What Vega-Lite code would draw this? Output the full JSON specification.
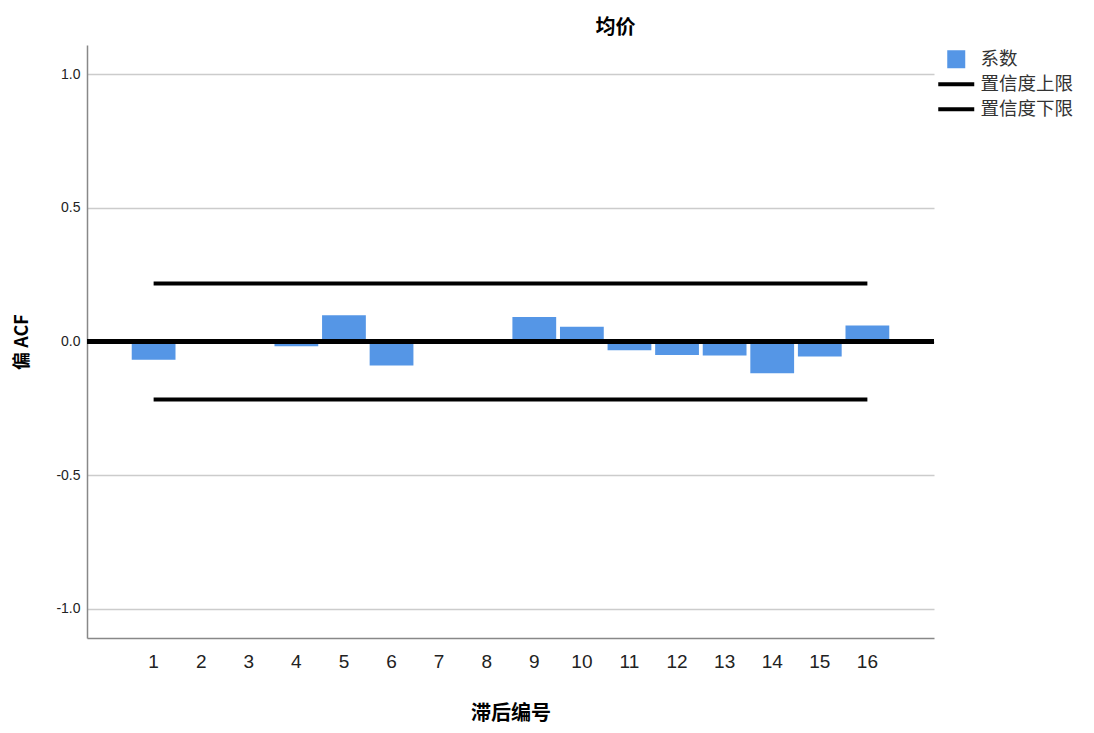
{
  "$schema": "https://vega.github.io/schema/vega-lite/v6.json",
  "autosize": {"type": "none"},
  "width": 847,
  "height": 593,
  "padding": {"left": 87, "top": 45, "right": 160, "bottom": 95},
  "background": "white",
  "config": {"view": {"stroke": null}},
  "title": {
    "text": "均价",
    "font": "Noto Sans CJK SC",
    "fontSize": 20,
    "fontWeight": "bold",
    "color": "#000000",
    "anchor": "middle",
    "dx": 105,
    "offset": 7
  },
  "data": {
    "values": [
      {"lag": 1, "acf": -0.068, "upper": 0.217, "lower": -0.217},
      {"lag": 2, "acf": -0.008, "upper": 0.217, "lower": -0.217},
      {"lag": 3, "acf": -0.004, "upper": 0.217, "lower": -0.217},
      {"lag": 4, "acf": -0.018, "upper": 0.217, "lower": -0.217},
      {"lag": 5, "acf": 0.098, "upper": 0.217, "lower": -0.217},
      {"lag": 6, "acf": -0.090, "upper": 0.217, "lower": -0.217},
      {"lag": 7, "acf": 0.001, "upper": 0.217, "lower": -0.217},
      {"lag": 8, "acf": -0.001, "upper": 0.217, "lower": -0.217},
      {"lag": 9, "acf": 0.092, "upper": 0.217, "lower": -0.217},
      {"lag": 10, "acf": 0.055, "upper": 0.217, "lower": -0.217},
      {"lag": 11, "acf": -0.033, "upper": 0.217, "lower": -0.217},
      {"lag": 12, "acf": -0.051, "upper": 0.217, "lower": -0.217},
      {"lag": 13, "acf": -0.052, "upper": 0.217, "lower": -0.217},
      {"lag": 14, "acf": -0.119, "upper": 0.217, "lower": -0.217},
      {"lag": 15, "acf": -0.056, "upper": 0.217, "lower": -0.217},
      {"lag": 16, "acf": 0.060, "upper": 0.217, "lower": -0.217}
    ]
  },
  "layer": [
    {
      "mark": {"type": "bar", "color": "#5596e6"},
      "encoding": {
        "x": {
          "field": "lag",
          "type": "ordinal",
          "scale": {"paddingInner": 0.08, "paddingOuter": 0.94},
          "axis": {
            "title": "滞后编号",
            "titleFont": "Noto Sans CJK SC",
            "titleFontSize": 20,
            "titleFontWeight": "bold",
            "titleColor": "#000000",
            "titlePadding": 32,
            "labelAngle": 0,
            "labelFont": "Liberation Sans",
            "labelFontSize": 19,
            "labelColor": "#222222",
            "labelPadding": 14,
            "ticks": false,
            "domainColor": "#888888",
            "domainWidth": 1.5,
            "grid": false
          }
        },
        "y": {
          "field": "acf",
          "type": "quantitative",
          "scale": {"domain": [-1.11, 1.11], "nice": false, "zero": false},
          "axis": {
            "title": "偏 ACF",
            "titleFont": "Noto Sans CJK SC",
            "titleFontSize": 18,
            "titleFontWeight": "bold",
            "titleColor": "#000000",
            "titlePadding": 24,
            "values": [-1, -0.5, 0, 0.5, 1],
            "format": ".1f",
            "labelExpr": "replace(datum.label, '\u2212', '-')",
            "labelFont": "Liberation Sans",
            "labelFontSize": 14,
            "labelColor": "#222222",
            "labelPadding": 7,
            "ticks": false,
            "domainColor": "#888888",
            "domainWidth": 1.5,
            "gridColor": "#cccccc",
            "gridWidth": 1.5
          }
        },
        "color": {
          "datum": "系数",
          "type": "nominal",
          "scale": {
            "domain": ["系数", "置信度上限", "置信度下限"],
            "range": ["#5596e6", "#000000", "#000000"]
          },
          "legend": {
            "title": null,
            "orient": "none",
            "legendX": 860,
            "legendY": 5,
            "padding": 0,
            "gridAlign": "all",
            "labelFont": "Noto Sans CJK SC",
            "labelFontSize": 18.5,
            "labelColor": "#333333",
            "labelOffset": 15,
            "rowPadding": 6,
            "symbolSize": 324,
            "encode": {
              "symbols": {
                "update": {
                  "shape": {"signal": "datum.value === '系数' ? 'square' : 'M-2,0L2,0'"},
                  "size": {"value": 324},
                  "fill": {"signal": "datum.value === '系数' ? '#5596e6' : 'transparent'"},
                  "stroke": {"signal": "datum.value === '系数' ? 'transparent' : '#000000'"},
                  "strokeWidth": {"signal": "datum.value === '系数' ? 0 : 4"},
                  "opacity": {"value": 1},
                  "fillOpacity": {"value": 1},
                  "strokeOpacity": {"value": 1}
                }
              }
            }
          }
        }
      }
    },
    {
      "mark": {"type": "rule", "color": "#000000", "strokeWidth": 4},
      "encoding": {"y": {"datum": 0, "type": "quantitative"}}
    },
    {
      "mark": {"type": "line", "strokeWidth": 4},
      "encoding": {
        "x": {"field": "lag", "type": "ordinal"},
        "y": {"field": "upper", "type": "quantitative"},
        "color": {"datum": "置信度上限", "type": "nominal"}
      }
    },
    {
      "mark": {"type": "line", "strokeWidth": 4},
      "encoding": {
        "x": {"field": "lag", "type": "ordinal"},
        "y": {"field": "lower", "type": "quantitative"},
        "color": {"datum": "置信度下限", "type": "nominal"}
      }
    }
  ]
}
